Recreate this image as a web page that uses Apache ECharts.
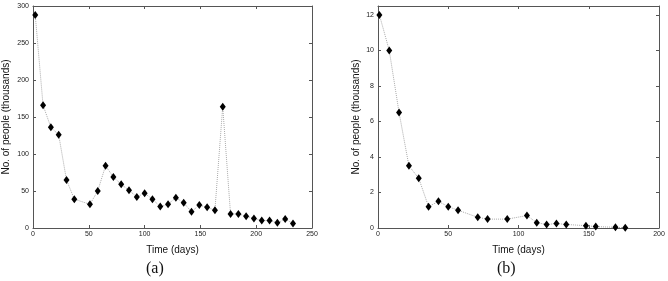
<!DOCTYPE html>
<html><head><meta charset="utf-8">
<script src="https://cdn.jsdelivr.net/npm/echarts@6/dist/echarts.min.js"></script>
<style>html,body{margin:0;padding:0;background:#fff}#c{width:668px;height:281px}</style>
</head><body><div id="c"></div>
<script>
const daysA = [2,9,16,23,30,37,51,58,65,72,79,86,93,100,107,114,121,128,135,142,149,156,163,170,177,184,191,198,205,212,219,226,233];
const peopleA = [288,166,136,126,65,39,32,50,84,69,59,51,42,47,39,29,32,41,34,22,31,28,24,164,19,19,16,13,10,10,7,12,6];
const daysB = [1,8,15,22,29,36,43,50,57,71,78,92,106,113,120,127,134,148,155,169,176];
const peopleB = [12,10,6.5,3.5,2.8,1.2,1.5,1.2,1.0,0.6,0.5,0.5,0.7,0.3,0.2,0.25,0.2,0.13,0.08,0.04,0.01];
const xTitle = 'Time (days)';
const yTitle = 'No. of people (thousands)';
const captions = ['(a)', '(b)'];

const chart = echarts.init(document.getElementById('c'), null, {renderer: 'canvas'});
const axisColor = '#555';
const font = 'Liberation Sans, Arial, sans-serif';
function xAx(gi, max, top) {
  return {
    type: 'value', gridIndex: gi, min: 0, max: max, interval: 50, position: top ? 'top' : 'bottom',
    name: top ? '' : xTitle, nameLocation: 'middle', nameGap: 17,
    nameTextStyle: {fontFamily: font, fontSize: 10, color: '#111'},
    axisLine: {show: true, onZero: false, lineStyle: {color: axisColor, width: 1}},
    axisTick: {show: true, inside: true, length: 3, lineStyle: {color: axisColor}},
    axisLabel: {show: !top, fontFamily: font, fontSize: 7, color: '#222', margin: 3},
    splitLine: {show: false}
  };
}
function yAx(gi, max, interval, right, gap, showMax) {
  return {
    type: 'value', gridIndex: gi, min: 0, max: max, interval: interval, position: right ? 'right' : 'left',
    name: right ? '' : yTitle, nameLocation: 'middle', nameGap: gap,
    nameTextStyle: {fontFamily: font, fontSize: 10, color: '#111'},
    axisLine: {show: true, onZero: false, lineStyle: {color: axisColor, width: 1}},
    axisTick: {show: true, inside: true, length: 3, lineStyle: {color: axisColor}},
    axisLabel: {show: !right, fontFamily: font, fontSize: 7, color: '#222', margin: 4, showMaxLabel: showMax},
    splitLine: {show: false}
  };
}
function ser(xi, yi, xs, ys) {
  return {
    type: 'line', xAxisIndex: xi, yAxisIndex: yi,
    data: xs.map((x, i) => [x, ys[i]]),
    symbol: 'diamond', symbolSize: [6, 8], showSymbol: true,
    itemStyle: {color: '#000'},
    lineStyle: {type: 'dotted', color: '#aaa', width: 1},
    animation: false, z: 3
  };
}
chart.setOption({
  animation: false,
  grid: [
    {left: 31, top: 6, width: 281, height: 222},
    {left: 378, top: 6, width: 281, height: 222}
  ],
  xAxis: [xAx(0, 250, false), xAx(0, 250, true), xAx(1, 200, false), xAx(1, 200, true)],
  yAxis: [yAx(0, 300, 50, false, 22, true), yAx(0, 300, 50, true, 0, true),
          yAx(1, 12.5, 2, false, 17, false), yAx(1, 12.5, 2, true, 0, false)],
  series: [ser(0, 0, daysA, peopleA), ser(2, 2, daysB, peopleB)],
  graphic: [
    {type: 'text', left: 146, top: 261, style: {text: captions[0], font: '16px "Liberation Serif", serif', fill: '#111'}},
    {type: 'text', left: 497, top: 261, style: {text: captions[1], font: '16px "Liberation Serif", serif', fill: '#111'}}
  ]
});
</script></body></html>
